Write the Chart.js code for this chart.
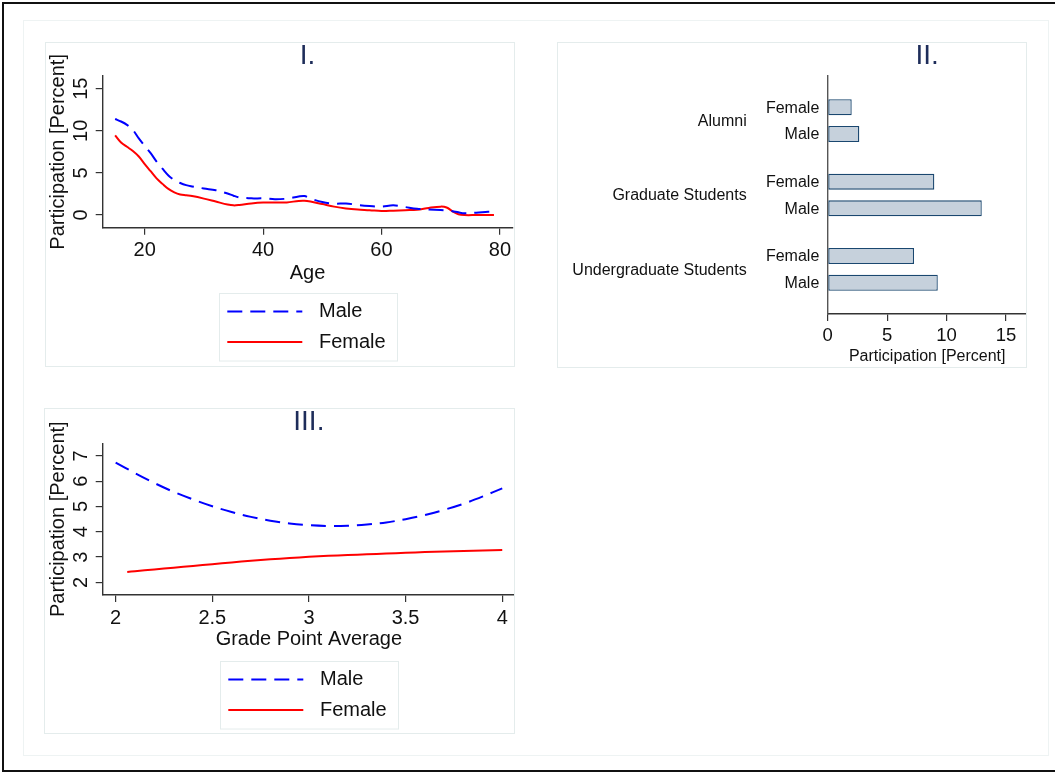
<!DOCTYPE html>
<html>
<head>
<meta charset="utf-8">
<script src="https://cdn.jsdelivr.net/npm/chart.js@4.4.1/dist/chart.umd.min.js"></script>
<style>
    body { margin: 0; background: #fff; width: 1055px; height: 773px; overflow: hidden; position: relative; }
    .frame { position: absolute; left: 2px; top: 2px; width: 1100px; height: 766px; border: 2px solid #111; }
    .inner { position: absolute; left: 23px; top: 20px; width: 1024px; height: 734px; border: 1px solid #eef3f3; }
    .panel { position: absolute; }
    .panel canvas { display: block; }
</style>
</head>
<body>
<div class="frame"></div>
<div class="inner"></div>
<div class="panel" style="left:45px; top:42px;"><canvas id="chart-age" width="470" height="325"></canvas></div>
<div class="panel" style="left:557px; top:42px;"><canvas id="chart-group" width="470" height="326"></canvas></div>
<div class="panel" style="left:44px; top:408px;"><canvas id="chart-gpa" width="471" height="326"></canvas></div>

<script>
// Panel I: participation by age
const ages = [15, 16, 17, 18, 19, 20, 21, 22, 23, 24, 25, 26, 27, 28, 30, 32, 34, 35, 36, 38, 40, 42, 44, 46, 47, 48,
              50, 52, 54, 56, 58, 60, 62, 64, 66, 68, 70, 71, 72, 73, 74, 76, 78, 79];
const maleByAge = [11.4, 11.1, 10.7, 10.1, 9.1, 8.2, 7.35, 6.35, 5.5, 4.7, 4.15, 3.8, 3.55, 3.4, 3.15, 2.95, 2.55, 2.3, 2.1, 1.98,
                   1.98, 1.88, 1.95, 2.2, 2.25, 1.95, 1.55, 1.35, 1.38, 1.2, 1.08, 1.0, 1.15, 0.95, 0.75, 0.67, 0.6, 0.55,
                   0.45, 0.32, 0.22, 0.28, 0.38, 0.4];
const femaleByAge = [9.45, 8.6, 8.1, 7.6, 6.95, 6.05, 5.2, 4.35, 3.7, 3.1, 2.7, 2.45, 2.35, 2.25, 1.95, 1.6, 1.25, 1.15, 1.2, 1.38,
                     1.48, 1.48, 1.5, 1.68, 1.7, 1.6, 1.3, 1.0, 0.78, 0.65, 0.58, 0.48, 0.52, 0.58, 0.62, 0.85, 1.0, 0.9,
                     0.45, 0.1, 0, 0, 0, 0];
const ageTicks = [20, 40, 60, 80];
const ageRateTicks = [0, 5, 10, 15];

// Panel II: participation by group
const groups = ['Alumni', 'Graduate Students', 'Undergraduate Students'];
const femaleByGroup = [2.02, 8.97, 7.26];
const maleByGroup = [2.66, 12.96, 9.26];
const groupRateTicks = [0, 5, 10, 15];

// Panel III: participation by grade point average
const gpa = [2.0, 2.1, 2.2, 2.3, 2.4, 2.5, 2.6, 2.7, 2.8, 2.9, 3.0, 3.1, 3.2, 3.3, 3.4, 3.5, 3.6, 3.7, 3.8, 3.9, 4.0];
const maleByGpa = [6.74, 6.32, 5.93, 5.58, 5.28, 5.01, 4.78, 4.59, 4.44, 4.33, 4.26, 4.23, 4.24, 4.29, 4.37, 4.50,
                   4.66, 4.87, 5.11, 5.40, 5.72];
const femaleGpa = [2.06, 2.1, 2.2, 2.3, 2.4, 2.5, 2.6, 2.7, 2.8, 2.9, 3.0, 3.1, 3.2, 3.3, 3.4, 3.5, 3.6, 3.7, 3.8, 3.9, 4.0];
const femaleByGpa = [2.41, 2.44, 2.51, 2.58, 2.65, 2.72, 2.79, 2.85, 2.91, 2.96, 3.01, 3.05, 3.08, 3.11, 3.14, 3.17,
                     3.20, 3.22, 3.24, 3.26, 3.28];
const gpaTicks = [2, 2.5, 3, 3.5, 4];
const gpaRateTicks = [2, 3, 4, 5, 6, 7];

const FONT = "'Liberation Sans', Arial, Helvetica, sans-serif";
const INK = '#111';
const AXIS = '#333';
const TITLE_COLOR = '#1e2d5a';

Chart.defaults.font.family = FONT;
Chart.defaults.color = INK;
Chart.defaults.animation = false;

const toPoints = (xs, ys) => xs.map((x, i) => ({ x: x, y: ys[i] }));
const fixedTicks = values => scale => { scale.ticks = values.map(v => ({ value: v })); };

// faint panel box + roman numeral title
const panelDecor = {
    id: 'panelDecor',
    afterDraw(chart, args, opts) {
        const { ctx, chartArea, width, height } = chart;
        ctx.save();
        ctx.strokeStyle = '#e4ecec';
        ctx.lineWidth = 1;
        ctx.strokeRect(0.5, 0.5, width - 1, height - 1);
        ctx.fillStyle = TITLE_COLOR;
        ctx.font = `28px ${FONT}`;
        ctx.textAlign = 'center';
        ctx.textBaseline = 'middle';
        ctx.fillText(opts.title, (chartArea.left + chartArea.right) / 2, opts.titleY);
        ctx.restore();
    }
};

// boxed two-row legend under the x axis title
const lineLegend = {
    id: 'lineLegend',
    afterDraw(chart) {
        const { ctx, chartArea } = chart;
        const w = 178, h = 67.5;
        const left = Math.round((chartArea.left + chartArea.right) / 2 - w / 2);
        const top = Math.round(chart.scales.x.bottom + 5.5);
        ctx.save();
        ctx.strokeStyle = '#e4ecec';
        ctx.lineWidth = 1;
        ctx.strokeRect(left + 0.5, top + 0.5, w, h);
        chart.data.datasets.forEach((ds, i) => {
            const y = top + 18.4 + i * 30.6;
            ctx.strokeStyle = ds.borderColor;
            ctx.lineWidth = ds.borderWidth;
            ctx.setLineDash(ds.borderDash || []);
            ctx.beginPath();
            ctx.moveTo(left + 8.3, y);
            ctx.lineTo(left + 83.3, y);
            ctx.stroke();
            ctx.setLineDash([]);
            ctx.fillStyle = INK;
            ctx.font = `20px ${FONT}`;
            ctx.textAlign = 'left';
            ctx.textBaseline = 'middle';
            ctx.fillText(ds.label, left + 100, y);
        });
        ctx.restore();
    }
};

// Female / Male labels next to bars, group names further left
const barLabels = {
    id: 'barLabels',
    afterDraw(chart) {
        const { ctx, chartArea } = chart;
        const metas = chart.data.datasets.map((ds, i) => chart.getDatasetMeta(i));
        ctx.save();
        ctx.fillStyle = INK;
        ctx.font = `16px ${FONT}`;
        ctx.textAlign = 'right';
        ctx.textBaseline = 'middle';
        groups.forEach((g, j) => {
            metas.forEach((m, i) => {
                ctx.fillText(chart.data.datasets[i].label, chartArea.left - 8.4, m.data[j].y + 1);
            });
            const mid = metas.reduce((s, m) => s + m.data[j].y, 0) / metas.length;
            ctx.fillText(g, chartArea.left - 81, mid + 1);
        });
        ctx.restore();
    }
};

function axisGrid() {
    return { display: true, drawOnChartArea: false, drawTicks: true, tickLength: 7, color: AXIS, lineWidth: 1.2 };
}

function axisBorder() {
    return { display: true, color: AXIS, width: 1.4 };
}

function lineDatasets(maleData, femaleData) {
    return [
        { label: 'Male', data: maleData, borderColor: '#0000ff', borderWidth: 2, borderDash: [15, 8],
          pointRadius: 0, tension: 0.35, fill: false },
        { label: 'Female', data: femaleData, borderColor: '#ff0000', borderWidth: 2,
          pointRadius: 0, tension: 0.35, fill: false }
    ];
}

function lineChart(id, cfg) {
    const ctx = document.getElementById(id).getContext('2d');
    new Chart(ctx, {
        type: 'line',
        data: { datasets: cfg.datasets },
        options: {
            responsive: false,
            animation: false,
            layout: { padding: { left: 0, top: cfg.top, right: 0, bottom: cfg.bottom } },
            plugins: {
                legend: { display: false },
                tooltip: { enabled: false },
                panelDecor: { title: cfg.title, titleY: cfg.titleY }
            },
            scales: {
                x: {
                    type: 'linear',
                    min: cfg.xMin, max: cfg.xMax,
                    afterBuildTicks: fixedTicks(cfg.xTicks),
                    ticks: { autoSkip: false, maxRotation: 0, padding: cfg.xTickPad, font: { size: 20 },
                             color: INK, callback: v => String(v) },
                    grid: axisGrid(),
                    border: axisBorder(),
                    title: { display: true, text: cfg.xTitle, font: { size: 20 }, color: INK,
                             padding: { top: 0, bottom: cfg.xTitlePad } },
                    afterFit: s => { s.height = 60; }
                },
                y: {
                    type: 'linear',
                    min: cfg.yMin, max: cfg.yMax,
                    afterBuildTicks: fixedTicks(cfg.yTicks),
                    ticks: { autoSkip: false, minRotation: 90, maxRotation: 90, crossAlign: 'center',
                             padding: cfg.yTickPad, font: { size: 20 }, color: INK, callback: v => String(v) },
                    grid: axisGrid(),
                    border: axisBorder(),
                    title: { display: true, text: 'Participation [Percent]', font: { size: 20 }, color: INK,
                             padding: { top: cfg.yTitlePad, bottom: 0 } },
                    afterFit: s => { s.width = cfg.yWidth; }
                }
            }
        },
        plugins: [panelDecor, lineLegend]
    });
}

function renderAgeChart() {
    lineChart('chart-age', {
        datasets: lineDatasets(toPoints(ages, maleByAge), toPoints(ages, femaleByAge)),
        title: 'I.', titleY: 14.5,
        top: 34, bottom: 79.3, yWidth: 57.7,
        xMin: 12.9, xMax: 82.1, xTicks: ageTicks, xTickPad: 4, xTitle: 'Age', xTitlePad: 2.5,
        yMin: -1.5, yMax: 16.5, yTicks: ageRateTicks, yTickPad: 3.5, yTitlePad: 1.5
    });
}

function renderGpaChart() {
    lineChart('chart-gpa', {
        datasets: lineDatasets(toPoints(gpa, maleByGpa), toPoints(femaleGpa, femaleByGpa)),
        title: 'III.', titleY: 14.5,
        top: 35.3, bottom: 79, yWidth: 58.7,
        xMin: 1.933, xMax: 4.066, xTicks: gpaTicks, xTickPad: 4.5, xTitle: 'Grade Point Average', xTitlePad: 3.4,
        yMin: 1.5, yMax: 7.5, yTicks: gpaRateTicks, yTickPad: 9, yTitlePad: 2.3
    });
}

function renderGroupChart() {
    const ctx = document.getElementById('chart-group').getContext('2d');
    const barStyle = { backgroundColor: '#c6d1dc', borderColor: '#1a476f', borderWidth: 1.3, borderSkipped: false,
                       categoryPercentage: 0.718, barPercentage: 0.6 };

    new Chart(ctx, {
        type: 'bar',
        data: {
            datasets: [
                { label: 'Female', data: femaleByGroup.map((v, i) => ({ x: v, y: i })), ...barStyle },
                { label: 'Male', data: maleByGroup.map((v, i) => ({ x: v, y: i })), ...barStyle }
            ]
        },
        options: {
            indexAxis: 'y',
            responsive: false,
            animation: false,
            layout: { padding: { left: 0, top: 34, right: 0.3, bottom: 0 } },
            plugins: {
                legend: { display: false },
                tooltip: { enabled: false },
                panelDecor: { title: 'II.', titleY: 14.7 }
            },
            scales: {
                x: {
                    type: 'linear',
                    min: 0, max: 16.74,
                    afterBuildTicks: fixedTicks(groupRateTicks),
                    ticks: { autoSkip: false, maxRotation: 0, padding: 3.9, font: { size: 18.5 }, color: INK,
                             callback: v => String(v) },
                    grid: axisGrid(),
                    border: axisBorder(),
                    title: { display: true, text: 'Participation [Percent]', font: { size: 16 }, color: INK,
                             padding: { top: 0, bottom: 1.4 } },
                    afterFit: s => { s.height = 54; }
                },
                y: {
                    type: 'linear',
                    reverse: true,
                    offset: false,
                    min: -0.6, max: 2.6,
                    afterBuildTicks: fixedTicks(groups.map((g, i) => i)),
                    ticks: { display: false },
                    grid: { display: false },
                    border: { display: true, color: '#555', width: 1.4 },
                    afterFit: s => { s.width = 270.7; }
                }
            }
        },
        plugins: [panelDecor, barLabels]
    });
}

renderAgeChart();
renderGroupChart();
renderGpaChart();
</script>
</body>
</html>
